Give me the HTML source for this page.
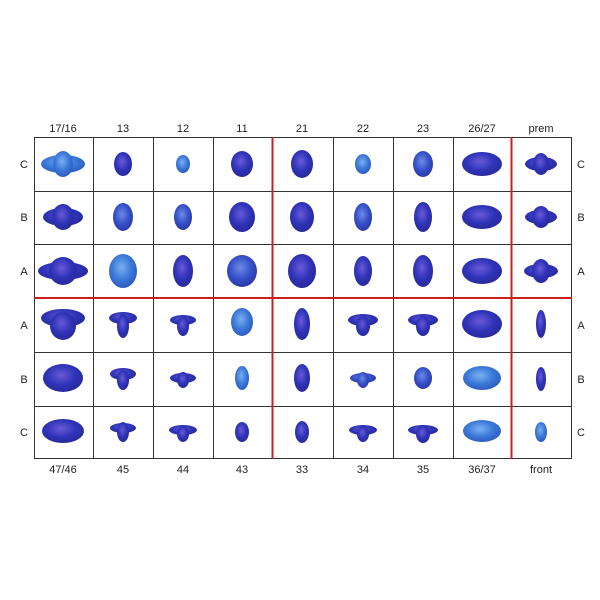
<!DOCTYPE html>
<html><head><meta charset="utf-8"><style>
body{margin:0;background:#fff;}
svg{display:block}
text{font-family:"Liberation Sans",sans-serif;font-size:11px;fill:#222}
</style></head><body>
<svg width="600" height="600" viewBox="0 0 600 600">
<defs>
<radialGradient id="d" cx="45%" cy="40%" r="60%"><stop offset="0" stop-color="#6a5ad8"/><stop offset="0.6" stop-color="#2e33b8"/><stop offset="1" stop-color="#2a2a9a"/></radialGradient>
<radialGradient id="l" cx="45%" cy="40%" r="60%"><stop offset="0" stop-color="#7ab0f0"/><stop offset="0.6" stop-color="#3a78d8"/><stop offset="1" stop-color="#2f5cc0"/></radialGradient>
<radialGradient id="m" cx="45%" cy="40%" r="60%"><stop offset="0" stop-color="#6f8ae8"/><stop offset="0.6" stop-color="#3550c8"/><stop offset="1" stop-color="#2c3aa8"/></radialGradient>
</defs>
<g id="cells">
<!-- upper rows C,B,A at y 164,217,271 ; lower A,B,C at 325,379,432 -->
<!-- col centers: 63,123,183,242,302,363,423,482,541 -->
<!-- row C upper -->
<ellipse cx="63" cy="164" rx="22" ry="9" fill="url(#l)"/><ellipse cx="63" cy="164" rx="10" ry="13" fill="url(#l)"/>
<ellipse cx="123" cy="164" rx="9" ry="12" fill="url(#d)"/>
<ellipse cx="183" cy="164" rx="7" ry="9" fill="url(#l)"/>
<ellipse cx="242" cy="164" rx="11" ry="13" fill="url(#d)"/>
<ellipse cx="302" cy="164" rx="11" ry="14" fill="url(#d)"/>
<ellipse cx="363" cy="164" rx="8" ry="10" fill="url(#l)"/>
<ellipse cx="423" cy="164" rx="10" ry="13" fill="url(#m)"/>
<ellipse cx="482" cy="164" rx="20" ry="12" fill="url(#d)"/>
<ellipse cx="541" cy="164" rx="16" ry="7" fill="url(#d)"/><ellipse cx="541" cy="164" rx="8" ry="11" fill="url(#d)"/>
<!-- row B upper -->
<ellipse cx="63" cy="217" rx="20" ry="9" fill="url(#d)"/><ellipse cx="63" cy="217" rx="11" ry="13" fill="url(#d)"/>
<ellipse cx="123" cy="217" rx="10" ry="14" fill="url(#m)"/>
<ellipse cx="183" cy="217" rx="9" ry="13" fill="url(#m)"/>
<ellipse cx="242" cy="217" rx="13" ry="15" fill="url(#d)"/>
<ellipse cx="302" cy="217" rx="12" ry="15" fill="url(#d)"/>
<ellipse cx="363" cy="217" rx="9" ry="14" fill="url(#m)"/>
<ellipse cx="423" cy="217" rx="9" ry="15" fill="url(#d)"/>
<ellipse cx="482" cy="217" rx="20" ry="12" fill="url(#d)"/>
<ellipse cx="541" cy="217" rx="16" ry="7" fill="url(#d)"/><ellipse cx="541" cy="217" rx="9" ry="11" fill="url(#d)"/>
<!-- row A upper -->
<ellipse cx="63" cy="271" rx="25" ry="9" fill="url(#d)"/><ellipse cx="63" cy="271" rx="14" ry="14" fill="url(#d)"/>
<ellipse cx="123" cy="271" rx="14" ry="17" fill="url(#l)"/>
<ellipse cx="183" cy="271" rx="10" ry="16" fill="url(#d)"/>
<ellipse cx="242" cy="271" rx="15" ry="16" fill="url(#m)"/>
<ellipse cx="302" cy="271" rx="14" ry="17" fill="url(#d)"/>
<ellipse cx="363" cy="271" rx="9" ry="15" fill="url(#d)"/>
<ellipse cx="423" cy="271" rx="10" ry="16" fill="url(#d)"/>
<ellipse cx="482" cy="271" rx="20" ry="13" fill="url(#d)"/>
<ellipse cx="541" cy="271" rx="17" ry="7" fill="url(#d)"/><ellipse cx="541" cy="271" rx="9" ry="12" fill="url(#d)"/>
<!-- row A lower -->
<ellipse cx="63" cy="318" rx="22" ry="9" fill="url(#d)"/><ellipse cx="63" cy="326" rx="13" ry="14" fill="url(#d)"/>
<ellipse cx="123" cy="318" rx="14" ry="6" fill="url(#d)"/><ellipse cx="123" cy="326" rx="6" ry="12" fill="url(#d)"/>
<ellipse cx="183" cy="320" rx="13" ry="5" fill="url(#d)"/><ellipse cx="183" cy="326" rx="6" ry="10" fill="url(#d)"/>
<ellipse cx="242" cy="322" rx="11" ry="14" fill="url(#l)"/>
<ellipse cx="302" cy="324" rx="8" ry="16" fill="url(#d)"/>
<ellipse cx="363" cy="320" rx="15" ry="6" fill="url(#d)"/><ellipse cx="363" cy="326" rx="7" ry="10" fill="url(#d)"/>
<ellipse cx="423" cy="320" rx="15" ry="6" fill="url(#d)"/><ellipse cx="423" cy="326" rx="7" ry="10" fill="url(#d)"/>
<ellipse cx="482" cy="324" rx="20" ry="14" fill="url(#d)"/>
<ellipse cx="541" cy="324" rx="5" ry="14" fill="url(#d)"/>
<!-- row B lower -->
<ellipse cx="63" cy="378" rx="20" ry="14" fill="url(#d)"/>
<ellipse cx="123" cy="374" rx="13" ry="6" fill="url(#d)"/><ellipse cx="123" cy="380" rx="6" ry="10" fill="url(#d)"/>
<ellipse cx="183" cy="378" rx="13" ry="5" fill="url(#d)"/><ellipse cx="183" cy="380" rx="6" ry="8" fill="url(#d)"/>
<ellipse cx="242" cy="378" rx="7" ry="12" fill="url(#l)"/>
<ellipse cx="302" cy="378" rx="8" ry="14" fill="url(#d)"/>
<ellipse cx="363" cy="378" rx="13" ry="5" fill="url(#m)"/><ellipse cx="363" cy="380" rx="6" ry="8" fill="url(#m)"/>
<ellipse cx="423" cy="378" rx="9" ry="11" fill="url(#m)"/>
<ellipse cx="482" cy="378" rx="19" ry="12" fill="url(#l)"/>
<ellipse cx="541" cy="379" rx="5" ry="12" fill="url(#d)"/>
<!-- row C lower -->
<ellipse cx="63" cy="431" rx="21" ry="12" fill="url(#d)"/>
<ellipse cx="123" cy="428" rx="13" ry="5" fill="url(#d)"/><ellipse cx="123" cy="432" rx="6" ry="10" fill="url(#d)"/>
<ellipse cx="183" cy="430" rx="14" ry="5" fill="url(#d)"/><ellipse cx="183" cy="434" rx="6" ry="8" fill="url(#d)"/>
<ellipse cx="242" cy="432" rx="7" ry="10" fill="url(#d)"/>
<ellipse cx="302" cy="432" rx="7" ry="11" fill="url(#d)"/>
<ellipse cx="363" cy="430" rx="14" ry="5" fill="url(#d)"/><ellipse cx="363" cy="434" rx="6" ry="8" fill="url(#d)"/>
<ellipse cx="423" cy="430" rx="15" ry="5" fill="url(#d)"/><ellipse cx="423" cy="434" rx="7" ry="9" fill="url(#d)"/>
<ellipse cx="482" cy="431" rx="19" ry="11" fill="url(#l)"/>
<ellipse cx="541" cy="432" rx="6" ry="10" fill="url(#l)"/>
</g>
<g stroke="#333" stroke-width="1" fill="none">
<rect x="34.5" y="137.5" width="537" height="321"/>
<path d="M93.5 137V459M153.5 137V459M213.5 137V459M333.5 137V459M393.5 137V459M453.5 137V459"/>
<path d="M34 191.5H572M34 244.5H572M34 352.5H572M34 406.5H572"/>
</g>
<g stroke="#c8201e" stroke-width="2">
<path d="M272.5 137V459M511.5 137V459M34 298H572"/>
</g>
<g text-anchor="middle">
<text x="63" y="132">17/16</text><text x="123" y="132">13</text><text x="183" y="132">12</text><text x="242" y="132">11</text><text x="302" y="132">21</text><text x="363" y="132">22</text><text x="423" y="132">23</text><text x="482" y="132">26/27</text><text x="541" y="132">prem</text>
<text x="63" y="473">47/46</text><text x="123" y="473">45</text><text x="183" y="473">44</text><text x="242" y="473">43</text><text x="302" y="473">33</text><text x="363" y="473">34</text><text x="423" y="473">35</text><text x="482" y="473">36/37</text><text x="541" y="473">front</text>
<text x="24" y="168">C</text><text x="24" y="221">B</text><text x="24" y="275">A</text><text x="24" y="329">A</text><text x="24" y="383">B</text><text x="24" y="436">C</text>
<text x="581" y="168">C</text><text x="581" y="221">B</text><text x="581" y="275">A</text><text x="581" y="329">A</text><text x="581" y="383">B</text><text x="581" y="436">C</text>
</g>
</svg>
</body></html>
